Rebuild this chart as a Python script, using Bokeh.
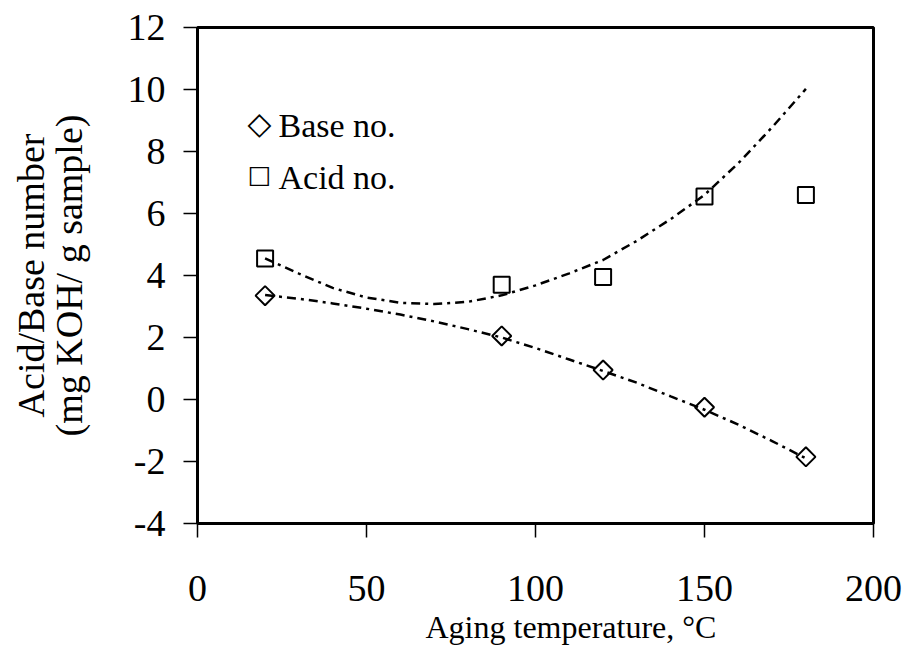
import numpy as np
from bokeh.plotting import figure
from bokeh.models import Range1d, FixedTicker, Label, Title
from bokeh.embed import file_html
from bokeh.resources import INLINE

# ---- data ----
temperature = [20, 90, 120, 150, 180]
base_no = [3.35, 2.05, 0.95, -0.25, -1.85]
acid_no = [4.55, 3.70, 3.95, 6.55, 6.60]

# trend lines (at 10 degree steps)
trend_x = [20, 30, 40, 50, 60, 70, 80, 90, 100, 110, 120, 130, 140, 150, 160, 170, 180]
base_trend = [3.37, 3.25, 3.10, 2.93, 2.74, 2.52, 2.27, 2.00, 1.66, 1.29, 0.92, 0.54, 0.10,
              -0.33, -0.81, -1.34, -1.90]
acid_trend = [4.55, 4.06, 3.60, 3.29, 3.12, 3.08, 3.15, 3.36, 3.68, 4.07, 4.50, 5.12, 5.82,
              6.60, 7.62, 8.78, 10.02]

x_ticks = [0, 50, 100, 150, 200]
y_ticks = [-4, -2, 0, 2, 4, 6, 8, 10, 12]

x_title = "Aging temperature, °C"
y_title = "Acid/Base number\n(mg KOH/ g sample)"
legend_labels = ["Base no.", "Acid no."]
legend_symbols = ["◇", "□"]

FONT = "Liberation Serif"

p = figure(frame_width=676, frame_height=496,
           x_range=Range1d(0, 200), y_range=Range1d(-4, 12),
           output_backend="svg", toolbar_location=None,
           min_border_left=197, min_border_right=35,
           min_border_top=27, min_border_bottom=126)

p.grid.visible = False
p.outline_line_color = "black"
p.outline_line_width = 3
p.background_fill_color = "white"
p.border_fill_color = "white"

for ax in (p.xaxis[0], p.yaxis[0]):
    ax.axis_line_color = "black"
    ax.axis_line_width = 3
    ax.major_tick_out = 14
    ax.major_tick_in = 0
    ax.major_tick_line_width = 1.5
    ax.major_tick_line_color = "black"
    ax.minor_tick_line_color = None
    ax.major_label_text_font = FONT
    ax.major_label_text_font_size = "38px"
    ax.major_label_text_color = "black"

p.xaxis.ticker = FixedTicker(ticks=x_ticks)
p.xaxis.major_label_overrides = {t: str(t) for t in x_ticks}
p.xaxis.major_label_standoff = 38
p.yaxis.ticker = FixedTicker(ticks=y_ticks)
p.yaxis.major_label_overrides = {t: str(t) for t in y_ticks}
p.yaxis.major_label_standoff = 18

p.yaxis.axis_label = y_title
p.yaxis.axis_label_text_font = FONT
p.yaxis.axis_label_text_font_size = "38px"
p.yaxis.axis_label_text_font_style = "normal"
p.yaxis.axis_label_text_color = "black"
p.yaxis.axis_label_text_line_height = 0.9
p.yaxis.axis_label_standoff = 35

dash = "9 5 3 5"
p.line(trend_x, base_trend, line_color="black", line_width=2.5, line_dash=dash)
p.line(trend_x, acid_trend, line_color="black", line_width=2.5, line_dash=dash)

p.scatter(temperature, base_no, marker="square", angle=np.pi / 4, size=13.5,
          fill_color=None, line_color="black", line_width=2)
p.scatter(temperature, acid_no, marker="square", size=16,
          fill_color=None, line_color="black", line_width=2)

# legend (inside the frame, screen offsets from the frame's bottom-left corner)
sym_sizes = ["31px", "25px"]
sym_y = [401, 349]
for i, (sym, lab) in enumerate(zip(legend_symbols, legend_labels)):
    p.add_layout(Label(x=62, y=sym_y[i], x_units="screen", y_units="screen", text=sym,
                       text_align="center", text_baseline="middle",
                       text_font="DejaVu Sans", text_font_size=sym_sizes[i],
                       text_font_style="bold", text_color="black"))
    p.add_layout(Label(x=81, y=398 - 52 * i, x_units="screen", y_units="screen", text=lab,
                       text_align="left", text_baseline="alphabetic",
                       text_font=FONT, text_font_size="34px", text_color="black"))

# x axis title, shifted right as in the reference
p.add_layout(Title(text=x_title, align="left", offset=228, standoff=6,
                   text_font=FONT, text_font_size="32px", text_font_style="normal",
                   text_color="black"), "below")

open("out.html", "w").write(file_html(p, INLINE))
